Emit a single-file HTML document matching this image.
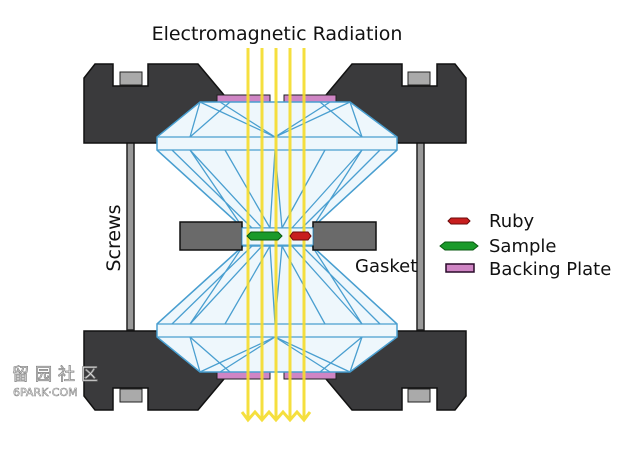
<!DOCTYPE html>
<html><head><style>
html,body{margin:0;padding:0;background:#fff;}
svg{display:block;font-family:"DejaVu Sans","Liberation Sans",sans-serif;}
</style></head><body>
<svg width="640" height="463" viewBox="0 0 640 463" xmlns="http://www.w3.org/2000/svg">
<rect width="640" height="463" fill="#fff"/>
<text x="277" y="40" font-size="19" text-anchor="middle" fill="#111">Electromagnetic Radiation</text>
<!-- screws -->
<rect x="127" y="140" width="7" height="190" fill="#999" stroke="#222" stroke-width="1.5"/>
<rect x="417" y="140" width="7" height="190" fill="#999" stroke="#222" stroke-width="1.5"/>
<g id="top">
  <!-- blocks -->
  <path d="M95,64 L113,64 L113,86 L148,86 L148,64 L198,64 L224,95 L224,102 L200,102 L157,137 L157,143 L84,143 L84,78 Z" fill="#3a3a3c" stroke="#111" stroke-width="1.5"/>
  <rect x="120" y="72" width="22" height="13" fill="#aaa" stroke="#222"/>
  <path d="M455,64 L437,64 L437,86 L402,86 L402,64 L352,64 L326,95 L326,102 L350,102 L393,137 L393,143 L466,143 L466,78 Z" fill="#3a3a3c" stroke="#111" stroke-width="1.5"/>
  <rect x="408" y="72" width="22" height="13" fill="#aaa" stroke="#222"/>
  <!-- plates -->
  <rect x="217" y="95" width="53" height="7" fill="#cf85c4" stroke="#222"/>
  <rect x="284" y="95" width="52" height="7" fill="#cf85c4" stroke="#222"/>
  <!-- diamond -->
  <path d="M200,102 L350,102 L397,137 L397,150 L312,228 L243,228 L157,150 L157,137 Z" fill="#eef7fc" stroke="#4a9fd0" stroke-width="1.5"/>
  <g stroke="#4a9fd0" stroke-width="1.3" fill="none">
    <line x1="157" y1="137" x2="397" y2="137"/>
    <line x1="157" y1="150" x2="397" y2="150"/>
    <path d="M200,102 L190,137 M350,102 L362,137 M200,102 L275,137 L350,102 M230,102 L190,137 M320,102 L362,137 M220,102 L275,137 M330,102 L275,137"/>
    <path d="M157,150 L243,228 M172,150 L252,228 M190,150 L262,228 M225,150 L270,228 M275,150 L270,228 M275,150 L282,228 M325,150 L282,228 M362,150 L292,228 M380,150 L302,228 M397,150 L312,228 M190,150 L243,228 M362,150 L312,228"/>
  </g>
</g>
<use href="#top" transform="translate(0,474) scale(1,-1)"/>
<!-- gasket -->
<rect x="180" y="222" width="62" height="28" fill="#6a6a6a" stroke="#111" stroke-width="1.5"/>
<rect x="313" y="222" width="63" height="28" fill="#6a6a6a" stroke="#111" stroke-width="1.5"/>
<rect x="242" y="228" width="71" height="17" fill="#eef7fc" stroke="#4a9fd0"/>
<!-- beams -->
<g stroke="#f5dc2a" stroke-width="3" fill="none" opacity="0.9">
  <line x1="248" y1="48" x2="248" y2="418"/>
  <line x1="262" y1="48" x2="262" y2="418"/>
  <line x1="276" y1="48" x2="276" y2="418"/>
  <line x1="290" y1="48" x2="290" y2="418"/>
  <line x1="304" y1="48" x2="304" y2="418"/>
  <path d="M242,412 L248,420 L255,412 L262,420 L269,412 L276,420 L283,412 L290,420 L297,412 L304,420 L310,412"/>
</g>
<!-- sample, ruby -->
<path d="M247,236 L251,232 L278,232 L282,236 L278,240 L251,240 Z" fill="#1a9a2a" stroke="#0a5a10"/>
<path d="M290,236 L293,232 L308,232 L311,236 L308,240 L293,240 Z" fill="#c81e1e" stroke="#6a0a0a"/>
<!-- labels -->
<text transform="translate(120,238) rotate(-90)" font-size="19" text-anchor="middle" fill="#111">Screws</text>
<text x="355" y="272" font-size="18" fill="#111">Gasket</text>
<path d="M448,221 L451,218 L467,218 L470,221 L467,224 L451,224 Z" fill="#c81e1e" stroke="#6a0a0a"/>
<text x="489" y="227" font-size="18" fill="#111">Ruby</text>
<path d="M440,246 L445,242 L473,242 L478,246 L473,250 L445,250 Z" fill="#1a9a2a" stroke="#0a5a10"/>
<text x="489" y="252" font-size="18" fill="#111">Sample</text>
<rect x="446" y="264" width="28" height="8" fill="#cf85c4" stroke="#2a0a2a" stroke-width="1.5"/>
<text x="489" y="275" font-size="18" fill="#111">Backing Plate</text>
<!-- watermark -->
<text x="12" y="380" font-size="17" fill="#fff" stroke="#888" stroke-width="0.8" font-family="'Noto Sans CJK SC',sans-serif" letter-spacing="6">留园社区</text>
<text x="13" y="396" font-size="11" fill="#fff" stroke="#888" stroke-width="0.6">6PARK·COM</text>
</svg>
</body></html>
